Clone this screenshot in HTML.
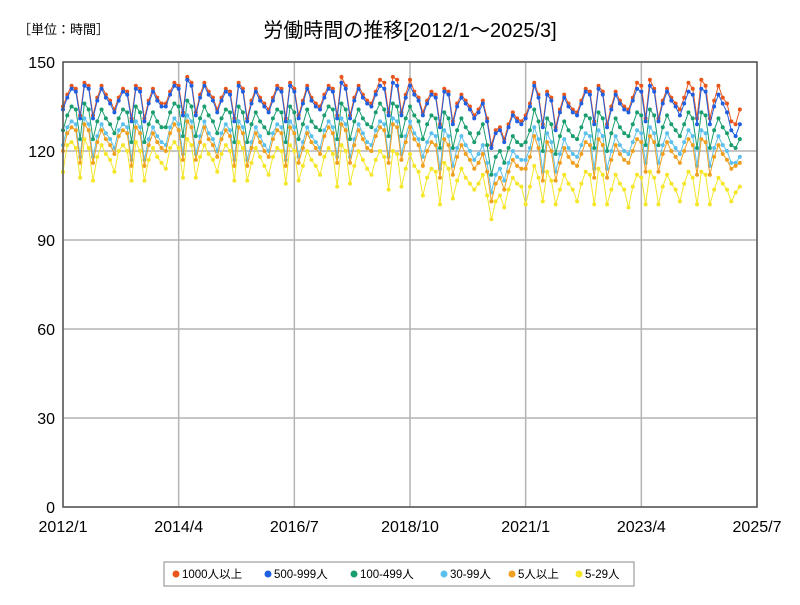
<!DOCTYPE html>
<html><head><meta charset="utf-8"><style>
body{margin:0;background:#fff;width:800px;height:600px;overflow:hidden;font-family:"Liberation Sans","Noto Sans CJK JP",sans-serif}
</style></head><body>
<svg id="chart" width="800" height="600" xmlns="http://www.w3.org/2000/svg">
<text x="18" y="34" font-size="13" font-family="Liberation Sans,Noto Sans CJK JP,sans-serif">［単位：時間］</text>
<text x="410" y="37" font-size="20" text-anchor="middle" font-family="Liberation Sans,Noto Sans CJK JP,sans-serif">労働時間の推移[2012/1～2025/3]</text>
<g id="grid"></g><g id="axes"></g><g id="series"></g>
<rect x="63" y="62" width="694" height="445" fill="none" stroke="#555" stroke-width="1.5"/>
<g id="legend"></g>
</svg>
<script>
const seriesNames=["1000人以上","500-999人","100-499人","30-99人","5人以上","5-29人"];
const seriesColors=["#E8561C","#1F5FE0","#1A9E6E","#5BC0EB","#F0A020","#F5E62A"];
const yTicks=[0,30,60,90,120,150];
const xTickLabels=["2012/1","2014/4","2016/7","2018/10","2021/1","2023/4","2025/7"];
const xTickMonths=[0,27,54,81,108,135,162];
const s1000=[135,139,142,141,132,143,142,132,138,142,139,137,134,138,141,140,131,142,141,131,137,141,138,136,136,140,143,142,133,145,143,133,139,143,140,138,134,138,141,140,131,143,141,131,137,141,138,136,134,138,142,141,131,143,141,132,137,142,138,136,135,139,142,141,132,145,142,132,138,142,139,137,136,140,144,143,133,145,144,133,139,144,140,138,133,137,140,139,129,141,140,130,136,139,137,135,132,134,137,131,122,127,128,124,129,133,131,130,132,136,143,139,129,140,138,128,134,139,136,134,133,137,141,140,130,142,140,129,135,140,137,135,134,138,143,142,131,144,141,131,137,141,138,136,134,138,143,141,131,144,142,131,137,142,138,136,130,129,134];
const s500=[134,138,141,140,131,142,141,131,137,141,138,136,133,137,140,139,130,141,140,130,136,140,137,135,135,139,142,141,132,144,142,132,138,142,139,137,133,137,140,139,130,142,140,130,136,140,137,135,133,137,141,140,130,142,140,131,136,141,137,135,134,138,141,140,131,143,141,131,137,141,138,136,135,139,142,141,132,143,142,132,138,142,139,137,132,136,139,138,128,140,139,129,135,138,136,134,131,133,136,130,121,126,127,123,128,132,130,129,131,135,142,138,128,139,137,127,133,138,135,133,132,136,140,139,129,141,139,128,134,139,136,134,133,137,141,140,130,142,140,130,136,140,137,135,132,136,140,139,129,141,140,129,135,139,136,133,127,125,129];
const s100=[127,132,135,134,124,136,134,124,130,134,131,129,126,131,134,133,123,135,133,123,129,133,130,128,128,133,136,135,125,137,135,125,131,135,132,130,126,131,134,133,123,135,133,123,129,133,130,128,126,131,134,133,123,135,133,124,129,134,130,128,127,132,135,134,124,136,134,124,130,134,131,129,128,133,136,134,125,136,135,125,131,135,132,130,124,129,132,131,121,133,131,121,127,131,128,126,123,126,129,122,112,118,120,116,121,125,123,122,123,127,134,130,120,131,129,119,125,130,127,125,124,128,132,131,121,133,131,120,126,131,128,126,125,129,133,132,122,134,132,122,128,132,129,127,125,129,133,131,121,133,132,121,127,131,128,126,122,121,124];
const s30=[122,128,130,129,118,131,129,118,125,129,126,124,121,127,129,128,117,130,128,117,124,128,125,123,122,128,131,129,119,132,130,119,125,130,126,124,120,126,129,127,117,130,128,117,123,128,125,122,120,126,129,128,117,130,128,118,123,128,125,123,121,127,130,128,118,131,129,118,124,129,126,123,122,127,130,129,118,131,130,119,125,130,126,124,118,123,126,125,114,127,125,115,121,125,122,120,117,119,122,116,106,112,114,110,116,120,118,117,117,121,128,124,113,126,123,113,119,124,121,119,118,122,126,125,114,127,125,114,120,125,122,120,119,123,127,126,116,128,126,116,122,126,123,121,119,123,127,125,115,127,126,115,121,125,122,120,116,116,118];
const s5plus=[120,126,128,127,116,129,127,116,123,127,124,122,119,125,127,126,115,128,126,115,122,126,123,121,120,126,129,127,117,130,128,117,123,128,124,122,118,124,127,125,115,128,126,115,121,126,123,120,118,124,127,126,115,128,126,116,121,126,123,121,119,125,128,126,116,129,127,116,122,127,124,121,120,125,128,127,116,129,128,117,123,128,124,122,115,120,123,122,111,124,122,112,118,122,119,117,114,116,119,113,103,109,111,107,113,117,115,114,114,118,125,121,110,123,120,110,116,121,118,116,115,119,123,122,111,124,122,111,117,122,119,117,116,120,124,123,113,125,123,113,119,123,120,118,116,120,124,122,112,124,123,112,118,122,119,117,114,115,116];
const s529=[113,122,123,121,111,124,121,110,118,122,119,117,113,120,122,120,110,123,120,110,117,121,118,116,114,121,123,121,111,124,122,111,118,122,119,117,113,119,122,120,110,123,121,110,116,121,118,115,112,118,121,120,109,122,120,110,115,120,117,115,112,118,121,119,108,122,120,109,115,120,117,114,112,117,120,118,107,120,119,108,114,119,115,113,105,111,114,113,102,116,114,104,110,114,111,109,107,109,112,105,97,103,105,101,107,111,109,108,102,108,115,111,103,113,110,102,107,112,109,107,103,109,113,112,102,114,112,102,107,112,109,107,101,108,112,111,102,113,111,102,108,112,109,107,103,109,113,111,102,113,112,102,107,111,109,107,103,106,108];
const seriesData=[s1000,s500,s100,s30,s5plus,s529];

const NS="http://www.w3.org/2000/svg";
const X0=63,X1=757,Y0=507,Y1=62;
function xScale(m){return X0+(X1-X0)*m/162;}
function yScale(v){return Y0-(Y0-Y1)*v/150;}
function mk(tag,attrs,parent){const e=document.createElementNS(NS,tag);for(const k in attrs)e.setAttribute(k,attrs[k]);parent.appendChild(e);return e;}
const grid=document.getElementById('grid'),axes=document.getElementById('axes'),ser=document.getElementById('series'),leg=document.getElementById('legend');
yTicks.forEach(t=>{
  const l=mk('line',{x1:X0,x2:X1,y1:yScale(t),y2:yScale(t),stroke:'#b4b4b4','stroke-width':1.5},grid);
  
  
  const tx=mk('text',{x:X0-8,y:yScale(t)+6,'text-anchor':'end','font-size':16},axes);
  tx.textContent=t;
  
  
});
xTickMonths.forEach((m,i)=>{
  const l=mk('line',{x1:xScale(m),x2:xScale(m),y1:Y1,y2:Y0,stroke:'#b4b4b4','stroke-width':1.5},grid);
  
  
  const tx=mk('text',{x:xScale(m),y:Y0+25,'text-anchor':'middle','font-size':16},axes);
  tx.textContent=xTickLabels[i];
  
  
});
seriesData.forEach((d,si)=>{
  const g=mk('g',{},ser);
  
  
  const pts=d.map((v,i)=>xScale(i)+','+yScale(v)).join(' ');
  const pl=mk('polyline',{points:pts,fill:'none',stroke:seriesColors[si],'stroke-width':1},g);
  
  
  d.forEach((v,i)=>{
    const c=mk('circle',{cx:xScale(i),cy:yScale(v),r:2,fill:seriesColors[si]},g);
    
    
  });
});
const lb=mk('rect',{x:164,y:562,width:470,height:24,fill:'#fff',stroke:'#888'},leg);


const lx=[172,264,350,440,508,575];
seriesNames.forEach((n,i)=>{
  const g=mk('g',{},leg);
  
  
  mk('circle',{cx:lx[i]+4,cy:574,r:3.5,fill:seriesColors[i]},g);
  const t=mk('text',{x:lx[i]+10,y:578,'font-size':11.5},g);
  t.textContent=n;
});
</script>
</body></html>
